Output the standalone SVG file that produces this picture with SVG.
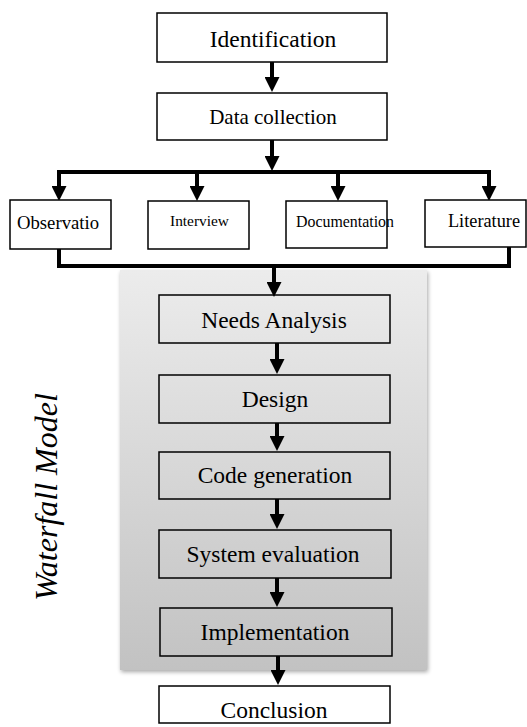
<svg xmlns="http://www.w3.org/2000/svg" width="527" height="727" viewBox="0 0 527 727">
<style>
.box{fill:#fff;stroke:#000;stroke-width:1.5}
.wbox{fill:none;stroke:#000;stroke-width:1.5}
.t{font-family:"Liberation Serif","Times New Roman",serif;fill:#000;text-anchor:middle}
.big{font-size:23.5px}
.c{fill:none;stroke:#000;stroke-width:4}
</style>
<defs>
<linearGradient id="pg" x1="0" y1="0" x2="0" y2="1">
<stop offset="0" stop-color="#ececec"/>
<stop offset="1" stop-color="#c2c2c2"/>
</linearGradient>
<filter id="sh" x="-10%" y="-10%" width="120%" height="120%">
<feGaussianBlur in="SourceAlpha" stdDeviation="2"/>
<feOffset dx="1" dy="2"/>
<feComponentTransfer><feFuncA type="linear" slope="0.35"/></feComponentTransfer>
<feMerge><feMergeNode/><feMergeNode in="SourceGraphic"/></feMerge>
</filter>
<marker id="ah" viewBox="0 0 15 15" refX="0" refY="7.5" markerWidth="15" markerHeight="15" markerUnits="userSpaceOnUse" orient="auto">
<path d="M0,0 L15,7.5 L0,15 Z" fill="#000"/>
</marker>
</defs>
<rect width="527" height="727" fill="#fff"/>
<g id="panel">
<rect x="120" y="270" width="307" height="400" fill="url(#pg)" filter="url(#sh)"/>
<text class="t" transform="translate(57,497) rotate(-90)" font-size="32" font-style="italic">Waterfall Model</text>
</g>
<g id="connectors">
<path class="c" d="M272,62 V77" marker-end="url(#ah)"/>
<path class="c" d="M272,140 V156" marker-end="url(#ah)"/>
<path class="c" d="M59,186 V172 H489 V186" marker-end="url(#ah)"/>
<path class="c" d="M59,172 V186" marker-end="url(#ah)"/>
<path class="c" d="M197,172 V186" marker-end="url(#ah)"/>
<path class="c" d="M338,172 V186" marker-end="url(#ah)"/>
<path class="c" d="M59,249 V266 H509 V247"/>
<path class="c" d="M274,266 V282" marker-end="url(#ah)"/>
<path class="c" d="M277,343 V359" marker-end="url(#ah)"/>
<path class="c" d="M277,423 V436" marker-end="url(#ah)"/>
<path class="c" d="M277,499 V514" marker-end="url(#ah)"/>
<path class="c" d="M277,578 V592" marker-end="url(#ah)"/>
<path class="c" d="M278,656 V670" marker-end="url(#ah)"/>
</g>
<g id="identification"><rect class="box" x="157" y="13" width="230" height="49"/><text class="t big" x="273" y="47">Identification</text></g>
<g id="data-collection"><rect class="box" x="157" y="93" width="230" height="47"/><text class="t" x="273" y="124" font-size="21">Data collection</text></g>
<g id="observation"><rect class="box" x="10" y="200" width="101" height="49"/><text class="t" x="58" y="229" font-size="18.7">Observatio</text></g>
<g id="interview"><rect class="box" x="148" y="201" width="101" height="48"/><text class="t" x="199.5" y="226" font-size="15.4">Interview</text></g>
<g id="documentation"><rect class="box" x="286" y="201" width="101" height="47"/><text class="t" x="345" y="227" font-size="15.9">Documentation</text></g>
<g id="literature"><rect class="box" x="425" y="200" width="101" height="47"/><text class="t" x="484" y="227" font-size="18.3">Literature</text></g>
<g id="needs-analysis"><rect class="wbox" x="159" y="295" width="231" height="48"/><text class="t big" x="274" y="328">Needs Analysis</text></g>
<g id="design"><rect class="wbox" x="159" y="375" width="231" height="48"/><text class="t big" x="275" y="407">Design</text></g>
<g id="code-generation"><rect class="wbox" x="159" y="452" width="231" height="47"/><text class="t big" x="275" y="483">Code generation</text></g>
<g id="system-evaluation"><rect class="wbox" x="159" y="530" width="232" height="48"/><text class="t big" x="273" y="562">System evaluation</text></g>
<g id="implementation"><rect class="wbox" x="160" y="608" width="232" height="48"/><text class="t big" x="275" y="640">Implementation</text></g>
<g id="conclusion"><rect class="box" x="159" y="686" width="231" height="37"/><text class="t big" x="274" y="718">Conclusion</text></g>
</svg>
